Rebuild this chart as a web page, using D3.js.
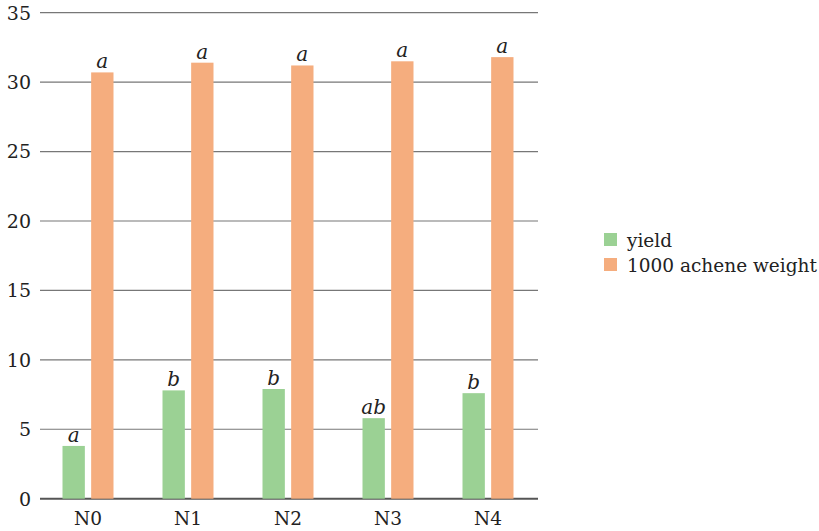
<!DOCTYPE html>
<html>
<head>
<meta charset="utf-8">
<script src="https://cdn.jsdelivr.net/npm/d3@7"></script>
<style>
  body { margin: 0; background: #fff; }
  text { font-family: "DejaVu Serif", serif; fill: #222; }
</style>
</head>
<body>
<div id="chart"></div>
<script>
var categories = ["N0", "N1", "N2", "N3", "N4"];
var seriesNames = ["yield", "1000 achene weight"];
var yieldValues = [3.8, 7.8, 7.9, 5.8, 7.6];
var acheneValues = [30.7, 31.4, 31.2, 31.5, 31.8];
var yieldLetters = ["a", "b", "b", "ab", "b"];
var acheneLetters = ["a", "a", "a", "a", "a"];
var yTicks = [0, 5, 10, 15, 20, 25, 30, 35];
var colors = ["#9bd194", "#f5ad7e"];

var width = 819, height = 531;

var svg = d3.select("#chart")
    .append("svg")
    .attr("width", width)
    .attr("height", height);

// scales
var x = d3.scaleBand()
    .domain(categories)
    .range([38, 538]);

var xInner = d3.scaleBand()
    .domain(seriesNames)
    .range([0, 51])
    .paddingInner(0.22);

var y = d3.scaleLinear()
    .domain([0, 35])
    .range([498.7, 12.7]);

// grid lines
svg.append("g")
    .selectAll("line")
    .data(yTicks)
    .enter().append("line")
    .attr("x1", 40)
    .attr("x2", 538)
    .attr("y1", d => y(d))
    .attr("y2", d => y(d))
    .attr("stroke", d => d === 0 ? "#555" : "#777")
    .attr("stroke-width", d => d === 0 ? 2 : 1.2);

// y tick labels
svg.append("g")
    .selectAll("text")
    .data(yTicks)
    .enter().append("text")
    .attr("x", 31)
    .attr("y", d => y(d))
    .attr("dy", "0.36em")
    .attr("text-anchor", "end")
    .style("font-size", "19px")
    .text(d => d);

// x labels
svg.append("g")
    .selectAll("text")
    .data(categories)
    .enter().append("text")
    .attr("x", d => x(d) + x.bandwidth() / 2)
    .attr("y", 525)
    .attr("text-anchor", "middle")
    .style("font-size", "18.5px")
    .text(d => d);

var rows = categories.map(function (c, i) {
    return {
        cat: c,
        vals: [
            {s: seriesNames[0], v: yieldValues[i], l: yieldLetters[i], c: colors[0]},
            {s: seriesNames[1], v: acheneValues[i], l: acheneLetters[i], c: colors[1]}
        ]
    };
});

var groups = svg.selectAll(".grp")
    .data(rows)
    .enter().append("g")
    .attr("class", "grp")
    .attr("transform", d => "translate(" + (x(d.cat) + (x.bandwidth() - 51) / 2) + ",0)");

groups.selectAll("rect")
    .data(d => d.vals)
    .enter().append("rect")
    .attr("x", d => xInner(d.s))
    .attr("y", d => y(d.v))
    .attr("width", xInner.bandwidth())
    .attr("height", d => y(0) - y(d.v))
    .attr("fill", d => d.c);

groups.selectAll("text")
    .data(d => d.vals)
    .enter().append("text")
    .attr("x", d => xInner(d.s) + xInner.bandwidth() / 2)
    .attr("y", d => y(d.v) - 4)
    .attr("text-anchor", "middle")
    .style("font-size", "20px")
    .style("font-style", "italic")
    .text(d => d.l);

// legend
var legend = svg.append("g")
    .attr("transform", "translate(604,233)");

var items = legend.selectAll("g")
    .data(seriesNames)
    .enter().append("g")
    .attr("transform", (d, i) => "translate(0," + i * 25 + ")");

items.append("rect")
    .attr("width", 13)
    .attr("height", 13)
    .attr("fill", (d, i) => colors[i]);

items.append("text")
    .attr("x", 23)
    .attr("y", 14)
    .style("font-size", "18.5px")
    .text(d => d);
</script>
</body>
</html>
